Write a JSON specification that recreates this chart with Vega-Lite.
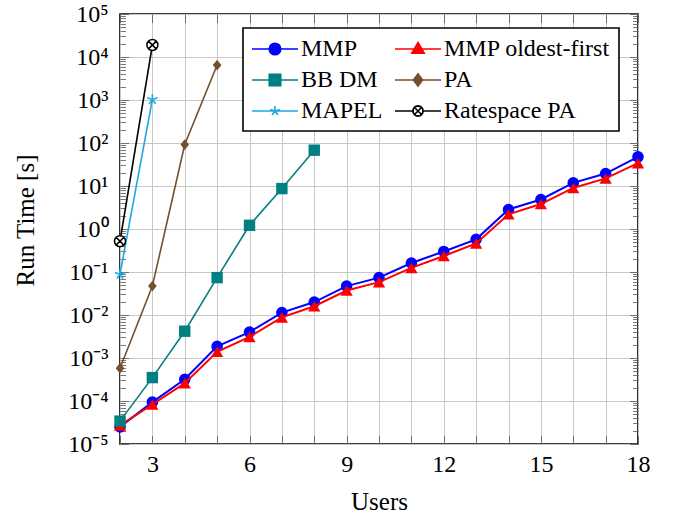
{
  "$schema": "https://vega.github.io/schema/vega-lite/v6.json",
  "width": 518,
  "height": 430,
  "autosize": {"type": "none"},
  "padding": {"left": 120, "top": 14, "right": 40, "bottom": 69},
  "config": {
    "view": {"stroke": "black", "strokeWidth": 1.6},
    "font": "Liberation Serif"
  },
  "data": {"values": [
    {"s": "MMP", "x": 2, "y": 2.5e-5}, {"s": "MMP", "x": 3, "y": 9.4e-5}, {"s": "MMP", "x": 4, "y": 3.2e-4}, {"s": "MMP", "x": 5, "y": 1.86e-3}, {"s": "MMP", "x": 6, "y": 4.0e-3}, {"s": "MMP", "x": 7, "y": 1.14e-2}, {"s": "MMP", "x": 8, "y": 2.0e-2}, {"s": "MMP", "x": 9, "y": 4.7e-2}, {"s": "MMP", "x": 10, "y": 7.4e-2}, {"s": "MMP", "x": 11, "y": 0.162}, {"s": "MMP", "x": 12, "y": 0.30}, {"s": "MMP", "x": 13, "y": 0.575}, {"s": "MMP", "x": 14, "y": 2.84}, {"s": "MMP", "x": 15, "y": 4.85}, {"s": "MMP", "x": 16, "y": 11.8}, {"s": "MMP", "x": 17, "y": 19.5}, {"s": "MMP", "x": 18, "y": 47.6},
    {"s": "MMP oldest-first", "x": 2, "y": 2.7e-5}, {"s": "MMP oldest-first", "x": 3, "y": 8.3e-5}, {"s": "MMP oldest-first", "x": 4, "y": 2.6e-4}, {"s": "MMP oldest-first", "x": 5, "y": 1.4e-3}, {"s": "MMP oldest-first", "x": 6, "y": 3.1e-3}, {"s": "MMP oldest-first", "x": 7, "y": 8.8e-3}, {"s": "MMP oldest-first", "x": 8, "y": 1.6e-2}, {"s": "MMP oldest-first", "x": 9, "y": 3.7e-2}, {"s": "MMP oldest-first", "x": 10, "y": 5.8e-2}, {"s": "MMP oldest-first", "x": 11, "y": 0.125}, {"s": "MMP oldest-first", "x": 12, "y": 0.235}, {"s": "MMP oldest-first", "x": 13, "y": 0.46}, {"s": "MMP oldest-first", "x": 14, "y": 2.2}, {"s": "MMP oldest-first", "x": 15, "y": 3.8}, {"s": "MMP oldest-first", "x": 16, "y": 9.0}, {"s": "MMP oldest-first", "x": 17, "y": 15}, {"s": "MMP oldest-first", "x": 18, "y": 34},
    {"s": "BB DM", "x": 2, "y": 3.4e-5}, {"s": "BB DM", "x": 3, "y": 3.5e-4}, {"s": "BB DM", "x": 4, "y": 4.2e-3}, {"s": "BB DM", "x": 5, "y": 7.4e-2}, {"s": "BB DM", "x": 6, "y": 1.22}, {"s": "BB DM", "x": 7, "y": 8.7}, {"s": "BB DM", "x": 8, "y": 68},
    {"s": "PA", "x": 2, "y": 5.8e-4}, {"s": "PA", "x": 3, "y": 4.7e-2}, {"s": "PA", "x": 4, "y": 92}, {"s": "PA", "x": 5, "y": 6500},
    {"s": "MAPEL", "x": 2, "y": 0.089}, {"s": "MAPEL", "x": 3, "y": 1030},
    {"s": "Ratespace PA", "x": 2, "y": 0.52}, {"s": "Ratespace PA", "x": 3, "y": 19000}
  ]},
  "encoding": {
    "x": {"field": "x", "type": "quantitative", "scale": {"domain": [2, 18], "nice": false, "zero": false}},
    "y": {"field": "y", "type": "quantitative", "scale": {"type": "log", "domain": [1e-5, 1e5], "nice": false}}
  },
  "layer": [
    {
      "encoding": {
        "x": {"field": "x", "type": "quantitative", "scale": {"domain": [2, 18], "nice": false, "zero": false},
          "axis": {"values": [2,3,4,5,6,7,8,9,10,11,12,13,14,15,16,17,18], "grid": true, "gridColor": "#c8c8c8", "gridWidth": 1, "ticks": false, "domain": false,
            "labelExpr": "datum.value % 3 === 0 ? datum.label : ''", "labelOverlap": false, "labelFlush": false,
            "labelFont": "Liberation Serif", "labelFontSize": 24, "labelColor": "black", "labelPadding": 8,
            "title": "Users", "titleFont": "Liberation Serif", "titleFontSize": 25, "titleFontWeight": "normal", "titleColor": "black", "titleY": 65, "titleBaseline": "alphabetic"}},
        "y": {"field": "y", "type": "quantitative", "scale": {"type": "log", "domain": [1e-5, 1e5], "nice": false},
          "axis": {"values": [1e-5, 1e-4, 1e-3, 1e-2, 1e-1, 1, 10, 100, 1000, 10000, 100000], "grid": true, "gridColor": "#c8c8c8", "gridWidth": 1, "ticks": false, "domain": false,
            "labelExpr": "'10' + ['⁻⁵','⁻⁴','⁻³','⁻²','⁻¹','⁰','¹','²','³','⁴','⁵'][round(log(datum.value)/LN10)+5]", "labelOverlap": false, "labelFlush": false,
            "labelFont": "Liberation Serif", "labelFontSize": 24, "labelColor": "black", "labelPadding": 12, "labelBaseline": "middle",
            "title": "Run Time [s]", "titleFont": "Liberation Serif", "titleFontSize": 25, "titleFontWeight": "normal", "titleColor": "black", "titleX": -87, "titleY": 206, "titleBaseline": "alphabetic"}},
        "color": {"field": "s", "type": "nominal",
          "scale": {"domain": ["MMP", "BB DM", "MAPEL", "MMP oldest-first", "PA", "Ratespace PA"], "range": ["#0000ff", "#008080", "#1ea7e4", "#ff0000", "#74502c", "#000000"]},
          "legend": {"title": null, "orient": "none", "legendX": 123, "legendY": 14, "columns": 2, "symbolSize": 576, "symbolStrokeWidth": 1.6, "symbolOpacity": 1, "symbolOffset": 11,
            "labelFont": "Liberation Serif", "labelFontSize": 24, "labelColor": "black", "labelOffset": 13, "labelLimit": 400, "padding": 8, "rowPadding": 6, "columnPadding": 8,
            "strokeColor": "black", "fillColor": "white",
            "encode": {
              "legend": {"update": {"strokeWidth": {"value": 1.6}}},
              "symbols": {"update": {
                "shape": {"signal": "datum.value === 'MMP' ? 'M-1.92,0L1.92,0M0.48,0A0.48,0.48,0,1,1,-0.48,0A0.48,0.48,0,1,1,0.48,0Z' : datum.value === 'MMP oldest-first' ? 'M-1.92,0L1.92,0M0,-0.54L0.52,0.345L-0.52,0.345Z' : datum.value === 'BB DM' ? 'M-1.92,0L1.92,0M-0.48,-0.48L0.48,-0.48L0.48,0.48L-0.48,0.48Z' : datum.value === 'PA' ? 'M-1.92,0L1.92,0M0,-0.52L0.38,0L0,0.52L-0.38,0Z' : datum.value === 'MAPEL' ? 'M-1.92,0L1.92,0M0,0L0,-0.42M0,0L0.4,-0.13M0,0L0.247,0.34M0,0L-0.247,0.34M0,0L-0.4,-0.13' : 'M-1.92,0L-0.42,0M0.42,0L1.92,0M0.43,0A0.43,0.43,0,1,1,-0.43,0A0.43,0.43,0,1,1,0.43,0ZM0.41,0A0.41,0.41,0,1,0,-0.41,0A0.41,0.41,0,1,0,0.41,0ZM-0.29,-0.29L0.29,0.29M-0.29,0.29L0.29,-0.29'"},
                "fill": {"signal": "datum.value === 'MMP' ? '#0000ff' : datum.value === 'MMP oldest-first' ? '#ff0000' : datum.value === 'BB DM' ? '#008080' : datum.value === 'PA' ? '#74502c' : datum.value === 'MAPEL' ? 'transparent' : 'white'"},
                "stroke": {"signal": "datum.value === 'MMP' ? '#0000ff' : datum.value === 'MMP oldest-first' ? '#ff0000' : datum.value === 'BB DM' ? '#008080' : datum.value === 'PA' ? '#74502c' : datum.value === 'MAPEL' ? '#1ea7e4' : 'black'"},
                "opacity": {"value": 1},
                "fillOpacity": {"value": 1},
                "strokeWidth": {"value": 1.6}
              }}
            }}
        }
      },
      "layer": [
        {"transform": [{"filter": "datum.s === 'MMP'"}], "mark": {"type": "line", "strokeWidth": 2}},
        {"transform": [{"filter": "datum.s === 'MMP'"}], "mark": {"type": "point", "shape": "circle", "filled": true, "size": 135, "opacity": 1}},
        {"transform": [{"filter": "datum.s === 'MMP oldest-first'"}], "mark": {"type": "line", "strokeWidth": 2}},
        {"transform": [{"filter": "datum.s === 'MMP oldest-first'"}], "mark": {"type": "point", "shape": "triangle-up", "filled": true, "size": 150, "opacity": 1}},
        {"transform": [{"filter": "datum.s === 'BB DM'"}], "mark": {"type": "line", "strokeWidth": 1.6}},
        {"transform": [{"filter": "datum.s === 'BB DM'"}], "mark": {"type": "point", "shape": "square", "filled": true, "size": 130, "opacity": 1}},
        {"transform": [{"filter": "datum.s === 'PA'"}], "mark": {"type": "line", "strokeWidth": 1.6}},
        {"transform": [{"filter": "datum.s === 'PA'"}], "mark": {"type": "point", "shape": "M0,-1L0.8,0L0,1L-0.8,0Z", "filled": true, "size": 115, "opacity": 1}},
        {"transform": [{"filter": "datum.s === 'MAPEL'"}], "mark": {"type": "line", "strokeWidth": 1.6}},
        {"transform": [{"filter": "datum.s === 'MAPEL'"}], "mark": {"type": "point", "shape": "M0,0L0,-1M0,0L0.951,-0.309M0,0L0.588,0.809M0,0L-0.588,0.809M0,0L-0.951,-0.309", "filled": false, "size": 121, "strokeWidth": 1.6, "opacity": 1}},
        {"transform": [{"filter": "datum.s === 'Ratespace PA'"}], "mark": {"type": "line", "strokeWidth": 1.6}},
        {"transform": [{"filter": "datum.s === 'Ratespace PA'"}], "mark": {"type": "point", "shape": "M1,0A1,1,0,1,1,-1,0A1,1,0,1,1,1,0ZM-0.707,-0.707L0.707,0.707M-0.707,0.707L0.707,-0.707", "filled": false, "fill": "white", "fillOpacity": 1, "size": 121, "strokeWidth": 1.5, "opacity": 1}}
      ]
    },
    {
      "mark": {"type": "point", "opacity": 0},
      "encoding": {
        "x": {"field": "x", "type": "quantitative", "scale": {"domain": [2, 18], "nice": false, "zero": false},
          "axis": {"orient": "bottom", "values": [2,3,4,5,6,7,8,9,10,11,12,13,14,15,16,17,18], "labels": false, "grid": false, "domain": false, "ticks": true, "tickSize": -8.5, "tickColor": "#555", "tickWidth": 0.8, "title": null}},
        "y": {"field": "y", "type": "quantitative", "scale": {"type": "log", "domain": [1e-5, 1e5], "nice": false},
          "axis": {"orient": "left", "values": [1e-5, 1e-4, 1e-3, 1e-2, 1e-1, 1, 10, 100, 1000, 10000, 100000], "labels": false, "grid": false, "domain": false, "ticks": true, "tickSize": -8.5, "tickColor": "#555", "tickWidth": 0.8, "title": null}}
      }
    },
    {
      "mark": {"type": "point", "opacity": 0},
      "encoding": {
        "x": {"field": "x", "type": "quantitative", "scale": {"domain": [2, 18], "nice": false, "zero": false},
          "axis": {"orient": "top", "values": [2,3,4,5,6,7,8,9,10,11,12,13,14,15,16,17,18], "labels": false, "grid": false, "domain": false, "ticks": true, "tickSize": -8.5, "tickColor": "#555", "tickWidth": 0.8, "title": null}},
        "y": {"field": "y", "type": "quantitative", "scale": {"type": "log", "domain": [1e-5, 1e5], "nice": false},
          "axis": {"orient": "right", "values": [1e-5, 1e-4, 1e-3, 1e-2, 1e-1, 1, 10, 100, 1000, 10000, 100000], "labels": false, "grid": false, "domain": false, "ticks": true, "tickSize": -8.5, "tickColor": "#555", "tickWidth": 0.8, "title": null}}
      }
    },
    {
      "mark": {"type": "point", "opacity": 0},
      "encoding": {
        "x": {"field": "x", "type": "quantitative", "scale": {"domain": [2, 18], "nice": false, "zero": false}, "axis": null},
        "y": {"field": "y", "type": "quantitative", "scale": {"type": "log", "domain": [1e-5, 1e5], "nice": false},
          "axis": {"orient": "left", "values": [2e-5,3e-5,4e-5,5e-5,6e-5,7e-5,8e-5,9e-5,2e-4,3e-4,4e-4,5e-4,6e-4,7e-4,8e-4,9e-4,2e-3,3e-3,4e-3,5e-3,6e-3,7e-3,8e-3,9e-3,2e-2,3e-2,4e-2,5e-2,6e-2,7e-2,8e-2,9e-2,0.2,0.3,0.4,0.5,0.6,0.7,0.8,0.9,2,3,4,5,6,7,8,9,20,30,40,50,60,70,80,90,200,300,400,500,600,700,800,900,2000,3000,4000,5000,6000,7000,8000,9000,20000,30000,40000,50000,60000,70000,80000,90000], "labels": false, "grid": false, "domain": false, "ticks": true, "tickSize": -5.5, "tickColor": "#555", "tickWidth": 0.8, "title": null}}
      }
    },
    {
      "mark": {"type": "point", "opacity": 0},
      "encoding": {
        "x": {"field": "x", "type": "quantitative", "scale": {"domain": [2, 18], "nice": false, "zero": false}, "axis": null},
        "y": {"field": "y", "type": "quantitative", "scale": {"type": "log", "domain": [1e-5, 1e5], "nice": false},
          "axis": {"orient": "right", "values": [2e-5,3e-5,4e-5,5e-5,6e-5,7e-5,8e-5,9e-5,2e-4,3e-4,4e-4,5e-4,6e-4,7e-4,8e-4,9e-4,2e-3,3e-3,4e-3,5e-3,6e-3,7e-3,8e-3,9e-3,2e-2,3e-2,4e-2,5e-2,6e-2,7e-2,8e-2,9e-2,0.2,0.3,0.4,0.5,0.6,0.7,0.8,0.9,2,3,4,5,6,7,8,9,20,30,40,50,60,70,80,90,200,300,400,500,600,700,800,900,2000,3000,4000,5000,6000,7000,8000,9000,20000,30000,40000,50000,60000,70000,80000,90000], "labels": false, "grid": false, "domain": false, "ticks": true, "tickSize": -5.5, "tickColor": "#555", "tickWidth": 0.8, "title": null}}
      }
    }
  ],
  "resolve": {"axis": {"x": "independent", "y": "independent"}}
}
